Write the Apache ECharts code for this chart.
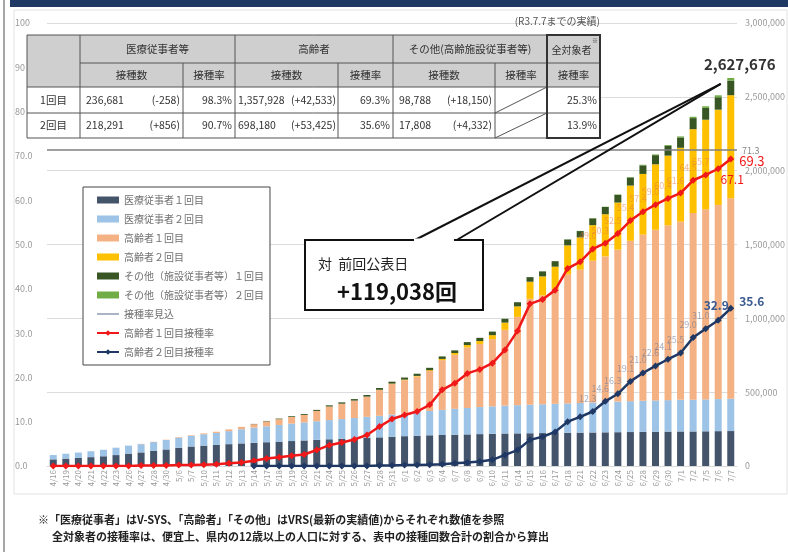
<!DOCTYPE html>
<html>
<head>
<meta charset="utf-8">
<style>
html,body{margin:0;padding:0;background:#fff;}
#container{width:788px;height:552px;}
</style>
</head>
<body>
<div id="container"></div>
<script src="https://cdn.jsdelivr.net/npm/echarts@6/dist/echarts.min.js"></script>
<script>
// ---- data ----
var dates = ['4/16','4/19','4/20','4/21','4/22','4/23','4/26','4/27','4/28','4/30',
  '5/6','5/7','5/10','5/11','5/12','5/13','5/14','5/17','5/18','5/19','5/20','5/21',
  '5/24','5/25','5/26','5/27','5/28','5/31','6/1','6/2','6/3','6/4','6/7','6/8','6/9',
  '6/10','6/11','6/14','6/15','6/16','6/17','6/18','6/21','6/22','6/23','6/24','6/25',
  '6/28','6/29','6/30','7/1','7/2','7/5','7/6','7/7'];
var iryo1 = [45000,50000,55000,60000,66000,74000,84000,92000,102000,112000,
  124000,132000,138000,143000,148000,153000,157000,161000,165000,169000,
  173000,177000,181000,184000,187000,191000,194000,198000,202000,205000,
  208000,210000,212000,214000,216000,218000,220000,221000,222000,223000,
  224000,225000,226000,227000,228000,229000,230000,231000,232000,233000,
  234000,234000,235000,236000,236681];
var iryo2 = [29000,33000,36000,40000,44000,50000,54000,56000,60000,64000,
  68000,72000,77000,81000,88000,96000,103000,108000,113000,118000,
  122000,126000,130000,134000,138000,142000,146000,150000,154000,160000,
  165000,170000,175000,179000,183000,186000,189000,191000,193000,195000,
  197000,199000,201000,203000,205000,207000,209000,211000,212000,213000,
  214000,215000,216000,217000,218291];
var korei1 = [0,0,0,0,0,0,0,2000,2000,2000,
  4000,4000,6000,8000,12000,16000,23000,33000,39000,45000,
  51000,70000,92000,104000,118000,137000,174000,208000,225000,241000,
  270000,337000,366000,410000,427000,455000,513000,598000,717000,737000,
  778000,874000,903000,960000,986000,1029000,1086000,1125000,1156000,1184000,
  1207000,1264000,1287000,1315000,1357928];
var korei2 = [0,0,0,0,0,0,0,0,0,0,
  0,0,0,0,0,0,0,0,0,0,
  0,0,0,0,0,0,2000,2000,4000,4000,
  6000,8000,12000,16000,20000,27000,49000,71000,116000,129000,
  151000,196000,218000,241000,286000,319000,374000,411000,443000,472000,
  500000,568000,607000,645000,698180];
var sonota1 = [0,0,0,0,0,0,0,0,0,0,
  0,0,0,0,0,0,2000,3000,4000,5000,
  6000,7000,8000,9000,10000,11000,12000,13000,14000,15000,
  16000,17000,18000,20000,22000,24000,26000,28000,31000,34000,
  37000,40000,43000,46000,49000,52000,55000,58000,62000,66000,
  70000,75000,80000,84000,98788];
var sonota2 = [0,0,0,0,0,0,0,0,0,0,
  0,0,0,0,0,0,0,0,0,0,
  0,0,0,0,0,0,0,0,0,0,
  0,0,0,0,0,0,0,0,0,0,
  0,1000,1000,2000,2000,3000,3000,4000,5000,6000,
  7000,9000,11000,13500,17808];
var rate1 = [0.0,0.0,0.0,0.0,0.0,0.0,0.0,0.1,0.1,0.1,
  0.2,0.2,0.3,0.4,0.6,0.8,1.2,1.7,2.0,2.3,
  2.6,3.6,4.7,5.3,6.0,7.0,8.9,10.6,11.5,12.3,
  13.8,17.2,18.7,20.9,21.8,23.2,26.2,30.5,36.6,37.6,
  39.7,44.6,46.1,49.0,50.3,52.5,55.4,57.4,59.0,60.4,
  61.6,64.5,65.7,67.1,69.3];
var rate2 = [null,null,null,null,null,null,null,null,null,null,
  null,null,null,null,null,null,0.0,0.0,0.0,0.0,
  0.0,0.0,0.0,0.0,0.0,0.0,0.1,0.1,0.2,0.2,
  0.3,0.4,0.6,0.8,1.0,1.4,2.5,3.6,5.9,6.6,
  7.7,10.0,11.1,12.3,14.6,16.3,19.1,21.0,22.6,24.1,
  25.5,29.0,31.0,32.9,35.6];
var mikomi = 71.3;
var zenkaiDiff = '+119,038回';

var barNames = ['医療従事者１回目','医療従事者２回目','高齢者１回目','高齢者２回目',
  'その他（施設従事者等）１回目','その他（施設従事者等）２回目'];
var barColors = ['#44546a','#9dc3e6','#f4b183','#ffc000','#375623','#70ad47'];
var lineNames = ['接種率見込','高齢者１回目接種率','高齢者２回目接種率'];

// table
var tblGroups = ['医療従事者等','高齢者','その他(高齢施設従事者等)'];
var tblSub = ['接種数','接種率','接種数','接種率','接種数','接種率','接種率'];
var tblRows = ['1回目','2回目'];
var iryoCount = ['236,681','218,291'], iryoDiff = ['(-258)','(+856)'], iryoRate = ['98.3%','90.7%'];
var koreiCount = ['1,357,928','698,180'], koreiDiff = ['(+42,533)','(+53,425)'], koreiRate = ['69.3%','35.6%'];
var otherCount = ['98,788','17,808'], otherDiff = ['(+18,150)','(+4,332)'];
var allRate = ['25.3%','13.9%'];

var fontJP = '"Noto Sans CJK JP", sans-serif';
function fmt(n) { return String(n).replace(/\B(?=(\d{3})+(?!\d))/g, ','); }

var last = dates.length - 1;
var lastTotal = iryo1[last] + iryo2[last] + korei1[last] + korei2[last] + sonota1[last] + sonota2[last];

var chart = echarts.init(document.getElementById('container'));

var allBars = [iryo1, iryo2, korei1, korei2, sonota1, sonota2];
var series = allBars.map(function (arr, k) {
  var s = {
    name: barNames[k], type: 'bar', stack: 'total', yAxisIndex: 1,
    barWidth: 7, itemStyle: { color: barColors[k] }, data: arr.slice()
  };
  if (k === 5) {
    s.data[last] = {
      value: arr[last],
      label: { show: true, position: 'top', offset: [9, -1], formatter: fmt(lastTotal),
        fontSize: 15, fontWeight: 'bold', color: '#333' }
    };
  }
  return s;
});

function oneDec(p) { return Number(p.value).toFixed(1); }
function rateData(arr, faint, special) {
  return arr.map(function (v, i) {
    if (v === null) return null;
    if (special[i]) return { value: v, label: special[i] };
    if (i >= 43 && i < last - 1) {
      return { value: v, label: { show: true, position: 'top', offset: [-5, 0],
        fontSize: 9, color: faint, formatter: oneDec } };
    }
    return v;
  });
}

var red = '#f01818', navy = '#1f3864';
series.push({
  name: lineNames[0], type: 'line', yAxisIndex: 0, symbol: 'none',
  lineStyle: { color: '#8c9cb0', width: 1.5 }, itemStyle: { color: '#8c9cb0' }, data: []
});
var sp1 = {};
sp1[last - 1] = { show: true, position: 'bottom', offset: [14, -4], fontSize: 12, color: red, formatter: oneDec };
sp1[last] = { show: true, position: 'right', offset: [0, 2], fontSize: 13, color: red, formatter: oneDec };
series.push({
  name: lineNames[1], type: 'line', yAxisIndex: 0, z: 5,
  symbol: 'diamond', symbolSize: 7,
  lineStyle: { color: red, width: 2.5 }, itemStyle: { color: red },
  data: rateData(rate1, 'rgba(226,120,70,0.55)', sp1),
  markLine: {
    silent: true, symbol: 'none',
    lineStyle: { color: '#7f7f7f', type: 'solid', width: 1.5 },
    label: { position: 'end', formatter: String(mikomi), color: '#888', fontSize: 9 },
    data: [{ yAxis: mikomi }]
  }
});
var sp2 = {};
sp2[last - 1] = { show: true, position: 'top', offset: [-2, 0], fontSize: 12, fontWeight: 'bold', color: '#3b5a8f', formatter: oneDec };
sp2[last] = { show: true, position: 'right', offset: [0, -7], fontSize: 12, fontWeight: 'bold', color: '#3b5a8f', formatter: oneDec };
series.push({
  name: lineNames[2], type: 'line', yAxisIndex: 0, z: 5,
  symbol: 'diamond', symbolSize: 7,
  lineStyle: { color: navy, width: 2.5 }, itemStyle: { color: navy },
  data: rateData(rate2, 'rgba(110,120,150,0.6)', sp2)
});

// thin bar icon for the 見込 line, keeps its aspect inside the icon box
var thinLineIcon = 'path://M0,0 L22,0 L22,1.5 L0,1.5 Z';
var legendData = barNames.map(function (n) { return { name: n, icon: 'rect' }; })
  .concat(lineNames.map(function (n, k) { return k === 0 ? { name: n, icon: thinLineIcon } : { name: n }; }));

var option = {
  backgroundColor: '#fff',
  animation: false,
  textStyle: { fontFamily: fontJP },
  grid: { left: 47, right: 46, top: 23, bottom: 86 },
  legend: {
    orient: 'vertical', left: 83, top: 187,
    data: legendData,
    backgroundColor: '#fff', borderColor: '#444', borderWidth: 1,
    padding: [6, 6, 6, 13], itemGap: 5, itemWidth: 22, itemHeight: 7,
    symbolKeepAspect: true,
    textStyle: { fontSize: 10, color: '#707070', lineHeight: 14 }
  },
  xAxis: {
    type: 'category', data: dates,
    axisTick: { show: false },
    axisLine: { lineStyle: { color: '#d9d9d9' } },
    axisLabel: { rotate: 90, interval: 0, fontSize: 8, color: '#999', margin: 4 }
  },
  yAxis: [
    {
      type: 'value', min: 0, max: 100, interval: 10,
      splitLine: { show: false }, axisLine: { show: false }, axisTick: { show: false },
      axisLabel: { fontSize: 9, color: '#999', margin: 32, align: 'left',
        formatter: function (v) { return v >= 80 ? String(v) : v.toFixed(1); } }
    },
    {
      type: 'value', min: 0, max: 3000000, interval: 500000, position: 'right',
      splitLine: { lineStyle: { color: '#dcdcdc' } }, axisLine: { show: false }, axisTick: { show: false },
      axisLabel: { fontSize: 9, color: '#999', margin: 8, formatter: fmt }
    }
  ],
  series: series
};
chart.setOption(option);

// ---- table, callout, frame (graphic) ----
function tx(text, x, y, size, align, opt) {
  opt = opt || {};
  return { type: 'text', x: x, y: y, z: opt.z || 30,
    style: { text: text, fill: opt.color || '#333', font: (opt.bold ? 'bold ' : '') + size + 'px ' + fontJP,
      textAlign: align || 'left', textVerticalAlign: 'middle' } };
}
function ln(x1, y1, x2, y2, color, w, z) {
  return { type: 'line', z: z || 30, shape: { x1: x1, y1: y1, x2: x2, y2: y2 },
    style: { stroke: color || '#555', lineWidth: w || 1 } };
}
function rc(x, y, w, h, fill, stroke, lw, z) {
  var st = { fill: fill || 'none', lineWidth: lw || 0 };
  if (stroke) st.stroke = stroke;
  return { type: 'rect', z: z || 29, shape: { x: x, y: y, width: w, height: h }, style: st };
}

var g = [];
var cx = [27, 80, 183, 235, 338, 393, 495, 547, 600];
var ry = [35, 63, 87, 113, 138];
g.push(rc(14, 10, 773, 484, null, '#e2e2e2', 1, 1));
g.push(ln(4, 0, 4, 552, '#888', 1.5));
g.push(rc(10, 0, 778, 7, '#1f3864', null, 0, 30));
g.push(tx('(R3.7.7までの実績)', 600, 21, 10, 'right', { color: '#555' }));
g.push(rc(cx[0], ry[0], cx[8] - cx[0], ry[2] - ry[0], '#cfcfcf'));
g.push(rc(cx[0], ry[2], cx[8] - cx[0], ry[4] - ry[2], '#fff'));
ry.forEach(function (y, i) {
  g.push(ln(i === 1 ? cx[1] : cx[0], y, cx[8], y));
});
cx.forEach(function (x, j) {
  var top = (j === 2 || j === 4 || j === 6) ? ry[1] : ry[0];
  g.push(ln(x, top, x, ry[4]));
});
g.push(rc(cx[7], ry[0], cx[8] - cx[7], ry[4] - ry[0], null, '#333', 2, 31));
var groupSpan = [[1, 3], [3, 5], [5, 7]];
tblGroups.forEach(function (t, k) {
  var a = cx[groupSpan[k][0]], b = cx[groupSpan[k][1]];
  g.push(tx(t, (a + b) / 2, (ry[0] + ry[1]) / 2, 10.5, 'center'));
});
g.push(tx('全対象者', (cx[7] + cx[8]) / 2 - 2, (ry[0] + ry[1]) / 2 + 1, 10, 'center'));
g.push(tx('※', cx[8] - 5, ry[0] + 6, 6, 'center'));
tblSub.forEach(function (t, k) {
  g.push(tx(t, (cx[k + 1] + cx[k + 2]) / 2, (ry[1] + ry[2]) / 2, 10.5, 'center'));
});
tblRows.forEach(function (t, r) {
  var y = (ry[r + 2] + ry[r + 3]) / 2;
  g.push(tx(t, (cx[0] + cx[1]) / 2, y, 10.5, 'center'));
  g.push(tx(iryoCount[r], cx[1] + 6, y, 10.5, 'left'));
  g.push(tx(iryoDiff[r], cx[2] - 3, y, 10.5, 'right'));
  g.push(tx(iryoRate[r], cx[3] - 3, y, 10.5, 'right'));
  g.push(tx(koreiCount[r], cx[3] + 3, y, 10.5, 'left'));
  g.push(tx(koreiDiff[r], cx[4] - 2, y, 10.5, 'right'));
  g.push(tx(koreiRate[r], cx[5] - 3, y, 10.5, 'right'));
  g.push(tx(otherCount[r], cx[5] + 6, y, 10.5, 'left'));
  g.push(tx(otherDiff[r], cx[6] - 3, y, 10.5, 'right'));
  g.push(ln(cx[6], ry[r + 3], cx[7], ry[r + 2], '#555', 1));
  g.push(tx(allRate[r], cx[8] - 3, y, 10.5, 'right'));
});

// callout pointing at the top of the last bar
var tip = chart.convertToPixel({ seriesIndex: 5 }, [last, lastTotal]) || [736, 80];
var bx = 305, by = 240, bw = 178, bh = 70;
g.push(ln(413, by + 1, tip[0] - 10, tip[1] + 6, '#111', 2, 40));
g.push(ln(455, by + 1, tip[0] - 10, tip[1] + 6, '#111', 2, 40));
g.push(rc(bx, by, bw, bh, '#fff', '#111', 2, 41));
g.push(ln(414, by, 454, by, '#fff', 3, 42));
g.push(tx('対  前回公表日', bx + 13, by + 24, 14, 'left', { color: '#222', z: 43 }));
g.push(tx(zenkaiDiff, bx + 32, by + 52, 22, 'left', { color: '#111', bold: true, z: 43 }));

// footnote
g.push(tx('※「医療従事者」はV-SYS、「高齢者」「その他」はVRS(最新の実績値)からそれぞれ数値を参照', 38, 520, 11, 'left', { color: '#222', bold: true }));
g.push(tx('全対象者の接種率は、便宜上、県内の12歳以上の人口に対する、表中の接種回数合計の割合から算出', 52, 537, 11, 'left', { color: '#222', bold: true }));

chart.setOption({ graphic: g });
</script>
</body>
</html>
